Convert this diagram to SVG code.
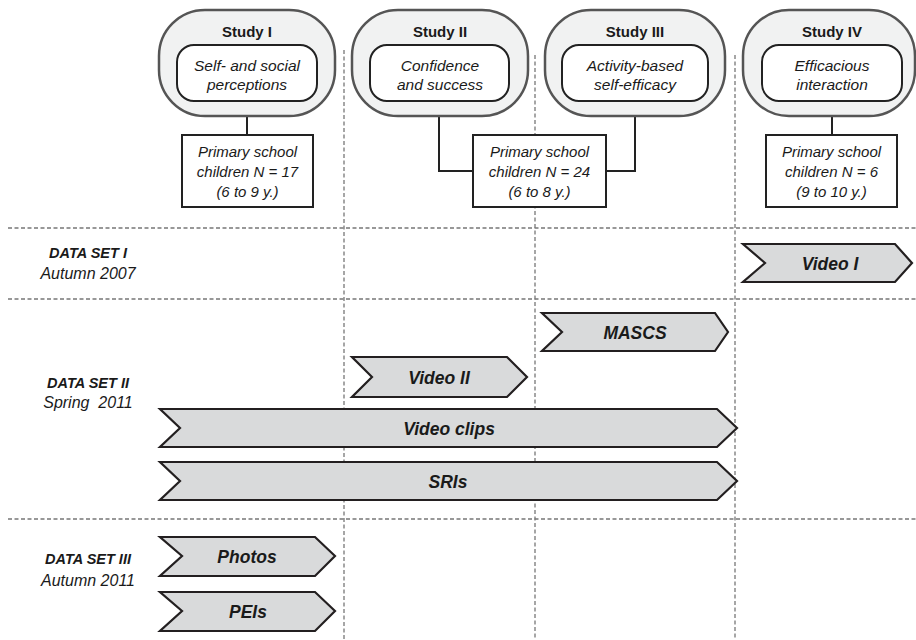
<svg xmlns="http://www.w3.org/2000/svg" width="916" height="640" viewBox="0 0 916 640">
<style>
.outer{fill:#f1f2f2;stroke:#555;stroke-width:2.5}
.inner{fill:#fff;stroke:#222;stroke-width:2}
.pop{fill:#fff;stroke:#222;stroke-width:2}
.ban{fill:#d9dadb;stroke:#231f20;stroke-width:2.2;stroke-linejoin:miter}
.grid{stroke:#777;stroke-width:1.3;stroke-dasharray:4 2.5;fill:none}
.con{stroke:#222;stroke-width:2;fill:none}
text{font-family:"Liberation Sans",Arial,sans-serif;fill:#1a1a1a;text-anchor:middle}
.ttl{font-weight:bold;font-size:15px}
.it{font-style:italic;font-size:15.5px}
.pt{font-style:italic;font-size:15px}
.bl{font-weight:bold;font-style:italic;font-size:17.5px}
.ds{font-weight:bold;font-style:italic;font-size:14.5px}
.dd{font-style:italic;font-size:16px;white-space:pre}
</style>
<g id="grid">
<line class="grid" x1="8" y1="228" x2="916" y2="228"/>
<line class="grid" x1="8" y1="299" x2="916" y2="299"/>
<line class="grid" x1="8" y1="519" x2="916" y2="519"/>
<line class="grid" x1="344" y1="50" x2="344" y2="640"/>
<line class="grid" x1="535" y1="55" x2="535" y2="640"/>
<line class="grid" x1="735" y1="55" x2="735" y2="640"/>
</g>
<g id="connectors">
<polyline class="con" points="247,116 247,135"/>
<polyline class="con" points="439,116 439,171 473,171"/>
<polyline class="con" points="635,116 635,171 606,171"/>
<polyline class="con" points="832,116 832,135"/>
</g>
<g id="study1">
<rect class="outer" x="159" y="10" width="176" height="106" rx="46"/>
<text class="ttl" x="247" y="37">Study I</text>
<rect class="inner" x="177" y="45" width="140" height="56" rx="17"/>
<text class="it" x="247" y="71">Self- and social</text>
<text class="it" x="247" y="90">perceptions</text>
</g>
<g id="study2">
<rect class="outer" x="352" y="10" width="176" height="106" rx="46"/>
<text class="ttl" x="440" y="37">Study II</text>
<rect class="inner" x="370" y="45" width="139" height="56" rx="17"/>
<text class="it" x="440" y="71">Confidence</text>
<text class="it" x="440" y="90">and success</text>
</g>
<g id="study3">
<rect class="outer" x="545" y="10" width="180" height="106" rx="46"/>
<text class="ttl" x="635" y="37">Study III</text>
<rect class="inner" x="562" y="45" width="146" height="56" rx="17"/>
<text class="it" x="635" y="71">Activity-based</text>
<text class="it" x="635" y="90">self-efficacy</text>
</g>
<g id="study4">
<rect class="outer" x="743" y="10" width="172" height="106" rx="46"/>
<text class="ttl" x="832" y="37">Study IV</text>
<rect class="inner" x="762" y="45" width="140" height="56" rx="17"/>
<text class="it" x="832" y="71">Efficacious</text>
<text class="it" x="832" y="90">interaction</text>
</g>
<g id="pop1">
<rect class="pop" x="182" y="135" width="131" height="72"/>
<text class="pt" x="247.5" y="157">Primary school</text>
<text class="pt" x="247.5" y="177">children N = 17</text>
<text class="pt" x="247.5" y="197">(6 to 9 y.)</text>
</g>
<g id="pop23">
<rect class="pop" x="473" y="135" width="133" height="72"/>
<text class="pt" x="539.5" y="157">Primary school</text>
<text class="pt" x="539.5" y="177">children N = 24</text>
<text class="pt" x="539.5" y="197">(6 to 8 y.)</text>
</g>
<g id="pop4">
<rect class="pop" x="766" y="135" width="131" height="72"/>
<text class="pt" x="831.5" y="157">Primary school</text>
<text class="pt" x="831.5" y="177">children N = 6</text>
<text class="pt" x="831.5" y="197">(9 to 10 y.)</text>
</g>
<g id="ds1">
<text class="ds" x="88" y="258">DATA SET I</text>
<text class="dd" x="88" y="279">Autumn 2007</text>
</g>
<g id="ds2">
<text class="ds" x="88" y="388">DATA SET II</text>
<text class="dd" x="88" y="408" xml:space="preserve">Spring  2011</text>
</g>
<g id="ds3">
<text class="ds" x="88" y="564">DATA SET III</text>
<text class="dd" x="88" y="586">Autumn 2011</text>
</g>
<g id="videoI">
<polygon class="ban" points="743,244 895,244 912,263 895,282 743,282 765,263"/>
<text class="bl" x="830" y="270">Video I</text>
</g>
<g id="mascs">
<polygon class="ban" points="542,313 715,313 728,332 715,351 542,351 562,332"/>
<text class="bl" x="635" y="339">MASCS</text>
</g>
<g id="videoII">
<polygon class="ban" points="352,357 507,357 527,377 507,397 352,397 372,377"/>
<text class="bl" x="439" y="384">Video II</text>
</g>
<g id="videoclips">
<polygon class="ban" points="160,409 717,409 737,428 717,447 160,447 180,428"/>
<text class="bl" x="449" y="435">Video clips</text>
</g>
<g id="sris">
<polygon class="ban" points="160,462 717,462 737,481 717,500 160,500 180,481"/>
<text class="bl" x="448" y="488">SRIs</text>
</g>
<g id="photos">
<polygon class="ban" points="160,537 315,537 335,556 315,576 160,576 182,556"/>
<text class="bl" x="247" y="563">Photos</text>
</g>
<g id="peis">
<polygon class="ban" points="160,592 315,592 335,611 315,631 160,631 182,611"/>
<text class="bl" x="248" y="618">PEIs</text>
</g>
</svg>
